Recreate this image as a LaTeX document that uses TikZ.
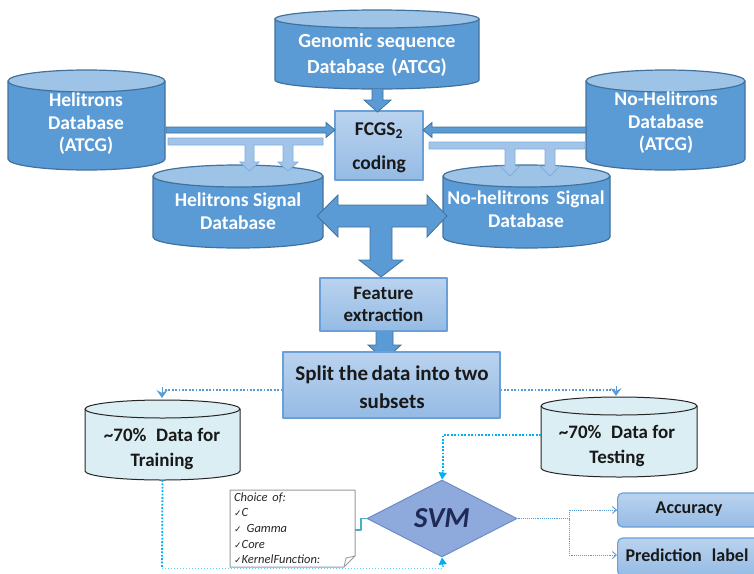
\documentclass[tikz,border=0pt]{standalone}
\usepackage{fontspec}
\setmainfont{Carlito}
\newfontfamily\symfont{DejaVu Sans}
\usetikzlibrary{shapes.geometric,arrows.meta,calc}
\definecolor{dbfill}{HTML}{5B9BD5}
\definecolor{dbtop}{HTML}{9DC3E6}
\definecolor{dbline}{HTML}{41719C}
\definecolor{boxtop}{HTML}{BAD3EF}
\definecolor{boxbot}{HTML}{95BBE4}
\definecolor{boxline}{HTML}{6A9FD8}
\definecolor{stripe}{HTML}{A2C4E8}
\definecolor{stripeline}{HTML}{7EAEDD}
\definecolor{datafill}{HTML}{DAEEF3}
\definecolor{svmfill}{HTML}{8EA9DB}
\definecolor{svmline}{HTML}{6C8CC8}
\definecolor{svmtext}{HTML}{1F2A56}
\definecolor{dotblue}{HTML}{5B9BD5}
\definecolor{cyanline}{HTML}{00B0F0}
\definecolor{tealline}{HTML}{4BACC6}
\newcommand{\drawcyl}[9]{%
 \pgfmathsetmacro\cylcx{(#1+#2)/2}%
 \pgfmathsetmacro\cylrx{(#2-#1)/2}%
 \filldraw[fill=#6,draw=#8,line width=#9] (#1,#3+#5) -- (#1,#4-#5) arc[start angle=180,end angle=0,x radius=\cylrx,y radius=#5] -- (#2,#3+#5) -- cycle;
 \filldraw[fill=#7,draw=#8,line width=#9] (\cylcx,#3+#5) ellipse[x radius=\cylrx,y radius=#5];
}
\newcommand{\chk}{{\symfont\fontsize{9}{9}\selectfont ✓}}
\begin{document}
\begin{tikzpicture}[x=1pt,y=-1pt,line join=round,
  dbtxt/.style={text=white,font=\bfseries\fontsize{19.5}{22.5}\selectfont,align=center,inner sep=0},
  bktxt/.style={text=black!90,font=\bfseries\fontsize{19.5}{22.5}\selectfont,align=center,inner sep=0},
  frame/.style={inner sep=0,outer sep=0,draw=none},
  bluebox/.style={draw=boxline,line width=1.2pt,top color=boxtop,bottom color=boxbot,inner sep=0},
  blockarrow/.style={fill=dbfill,draw=dbline,line width=0.8pt,line join=miter},
  lightarrow/.style={fill=stripe,draw=stripeline,line width=0.8pt,line join=miter},
  dotconn/.style={draw=dotblue,line width=1.8pt,dash pattern=on 1.8pt off 1.6pt},
  cyanthick/.style={draw=cyanline,line width=1.8pt,dash pattern=on 1.8pt off 1.6pt},
  cyanthin/.style={draw=cyanline!60,line width=1pt,dotted},
  outconn/.style={draw=dotblue,line width=0.9pt,densely dotted},
  outbox/.style={draw=boxline,line width=1.2pt,top color=boxtop,bottom color=boxbot,rounded corners=5pt,inner sep=0}]
\useasboundingbox (0,0) rectangle (754,573);

% ---------- top databases ----------
\drawcyl{275}{479}{10}{89}{9}{dbfill}{dbtop}{dbline}{1.2pt}
\node[frame,minimum width=204pt,minimum height=79pt] (gen) at (377,49.5) {};
\node[dbtxt,font=\bfseries\fontsize{20}{26}\selectfont] (gentxt) at (377,55) {Genomic sequence\\Database\,\,(ATCG)};

\drawcyl{8}{165}{70}{170}{11}{dbfill}{dbtop}{dbline}{1.2pt}
\node[frame,minimum width=157pt,minimum height=100pt] (hel) at (86.5,120) {};
\node[dbtxt] (heltxt) at (86,124) {Helitrons\\Database\\(ATCG)};

\drawcyl{586}{745}{70}{170}{11}{dbfill}{dbtop}{dbline}{1.2pt}
\node[frame,minimum width=159pt,minimum height=100pt] (nohel) at (665.5,120) {};
\node[dbtxt] (nohtxt) at (666,123) {No-Helitrons\\Database\\(ATCG)};

% ---------- FCGS2 ----------
\node[bluebox,minimum width=88pt,minimum height=69pt] (fcgs) at (379,145.5) {};
\node[bktxt] (fcgstxt) at (379,131) {FCGS\textsubscript{2}};
\node[bktxt] (codtxt) at (379,164) {coding};

% genomic -> FCGS2
\draw[blockarrow] (372,89) -- (372,100) -- (364,100) -- (377.5,112) -- (391,100) -- (383,100) -- (383,89);

% thin arrows into FCGS2
\draw[blockarrow] (166,127) -- (326,127) -- (326,122.5) -- (335,130) -- (326,137.5) -- (326,133) -- (166,133) -- cycle;
\draw[blockarrow] (586,127) -- (432,127) -- (432,122.5) -- (423,130) -- (432,137.5) -- (432,133) -- (586,133) -- cycle;

% ---------- signal databases ----------
\drawcyl{153}{323}{165}{248}{11}{dbfill}{dbtop}{dbline}{1.2pt}
\node[frame,minimum width=170pt,minimum height=83pt] (hsig) at (238,206.5) {};
\node[dbtxt] (hsigtxt) at (238,211) {Helitrons Signal\\Database};

\drawcyl{443}{610}{165}{248}{11}{dbfill}{dbtop}{dbline}{1.2pt}
\node[frame,minimum width=167pt,minimum height=83pt] (nsig) at (526.5,206.5) {};
\node[dbtxt] (nsigtxt) at (526,209) {No-helitrons\, Signal\\Database};

% light elbow arrows
\draw[lightarrow] (168,138) -- (323,138) -- (323,145) -- (293,145) -- (293,162) -- (298,162) -- (288,171) -- (278,162) -- (283,162) -- (283,145) -- (254,145) -- (254,162) -- (259,162) -- (249.5,171) -- (240,162) -- (245,162) -- (245,145) -- (168,145) -- cycle;
\draw[lightarrow] (429,142) -- (585,142) -- (585,149) -- (555,149) -- (555,166) -- (560,166) -- (550,176) -- (540,166) -- (545,166) -- (545,149) -- (515,149) -- (515,166) -- (520,166) -- (510,176) -- (500,166) -- (505,166) -- (505,149) -- (429,149) -- cycle;

% big double arrow with stem
\draw[blockarrow] (317,216) -- (338,195) -- (338,205) -- (427,205) -- (427,195) -- (447,216) -- (427,237) -- (427,227) -- (392,227) -- (392,260) -- (403,260) -- (381,277) -- (359,260) -- (370,260) -- (370,227) -- (338,227) -- (338,237) -- cycle;

% ---------- feature extraction ----------
\node[bluebox,minimum width=127pt,minimum height=53pt] (feat) at (383.5,304.5) {};
\node[bktxt,font=\bfseries\fontsize{19}{22}\selectfont] (feattxt) at (383.5,304) {Feature\\extraction};

\draw[blockarrow] (376,331) -- (376,345) -- (368,345) -- (384.5,360) -- (401,345) -- (393,345) -- (393,331);

% ---------- split ----------
\node[bluebox,minimum width=217pt,minimum height=66pt] (split) at (391.5,385) {};
\node[bktxt,font=\bfseries\fontsize{21}{28}\selectfont] (splittxt) at (392,387) {Split the\,data into two\\subsets};

% ---------- train / test ----------
\drawcyl{85}{240}{400}{480}{9}{datafill}{datafill}{black!85}{1pt}
\node[frame,minimum width=155pt,minimum height=80pt] (train) at (162.5,440) {};
\node[bktxt,font=\bfseries\fontsize{19}{25}\selectfont] (traintxt) at (162,449) {\char`\~70\%\,\,\,Data for\\Training};

\drawcyl{541}{697}{397}{477}{9}{datafill}{datafill}{black!85}{1pt}
\node[frame,minimum width=156pt,minimum height=80pt] (test) at (619,437) {};
\node[bktxt,font=\bfseries\fontsize{19}{25}\selectfont] (testtxt) at (617,446) {\char`\~70\%\,\,\,Data for\\Testing};

\coordinate (trtop) at (162,398);
\coordinate (tetop) at (616,396);
\draw[dotconn] (split.west |- 0,390) -- (162,390);
\draw[dotblue,line width=1pt,-{Stealth[length=8pt,width=11pt,inset=3pt]}] (162,387) -- (trtop);
\draw[dotconn] (split.east |- 0,390) -- (616,390);
\draw[dotblue,line width=1pt,-{Stealth[length=8pt,width=11pt,inset=3pt]}] (616,386) -- (tetop);

% ---------- SVM ----------
\node[diamond,fill=svmfill,draw=svmline,line width=1pt,minimum width=150pt,minimum height=77pt,inner sep=0,aspect=1.95,font=\bfseries\itshape\fontsize{29}{30}\selectfont,text=svmtext] (svm) at (442,518.5) {SVM};

\coordinate (testcorner) at (443,435);
\draw[cyanthick] (test.west |- 0,435) -- (testcorner) -- (443,472);
\draw[cyanline,line width=1pt,-{Triangle[length=7pt,width=8pt]}] (443,470) -- (svm.north);

\coordinate (trcorner) at (162,568);
\draw[cyanthick] (train.south) -- (trcorner);
\draw[cyanthin] (trcorner) -- (443,568) -- (443,564);
\draw[cyanline,line width=1pt,-{Triangle[length=7pt,width=8pt]}] (443,567) -- (svm.south);

% ---------- choice note ----------
\filldraw[fill=white,draw=black!40,line width=1pt] (230,490) -- (355,490) -- (355,556) -- (344,567) -- (230,567) -- cycle;
\draw[draw=black!40,line width=0.8pt] (344,567) -- (346,558) -- (355,556);
\node[frame,minimum width=125pt,minimum height=77pt] (choice) at (292.5,528.5) {};
\node[anchor=north west,inner sep=0,align=left,text=black!85,font=\itshape\fontsize{12.5}{15.6}\selectfont] (choicetxt) at (234,492.5) {Choice\, of:\\\chk C\\\chk\, Gamma\\\chk Core\\\chk KernelFunction:};
\draw[tealline,line width=1.4pt] (choice.east |- 0,530) -- (361,530) -- (361,518.5) -- (svm.west);

% ---------- outputs ----------
\node[outbox,minimum width=150pt,minimum height=34pt,anchor=west] (acc) at (617,510) {};
\node[bktxt,font=\bfseries\fontsize{18}{20}\selectfont] (acctxt) at (689,509) {Accuracy};
\node[outbox,minimum width=150pt,minimum height=38pt,anchor=west] (pred) at (617,557) {};
\node[bktxt,font=\bfseries\fontsize{18}{20}\selectfont] (predtxt) at (687,555) {Prediction\,\, label};
\coordinate (split2) at (569,518.5);
\draw[outconn] (svm.east) -- (split2);
\draw[outconn,-{Straight Barb[length=4pt,width=7pt]}] (split2) |- (acc.west);
\draw[outconn,-{Straight Barb[length=4pt,width=7pt]}] (split2) |- (pred.west |- 0,555);
\end{tikzpicture}
\end{document}
